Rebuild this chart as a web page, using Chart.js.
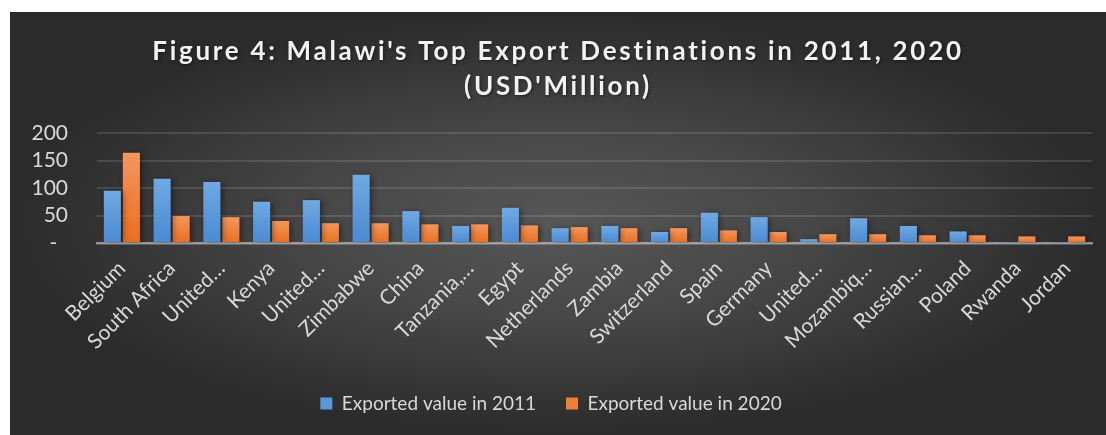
<!DOCTYPE html>
<html>
<head>
<meta charset="utf-8">
<title>Malawi export destinations</title>
<script src="https://cdn.jsdelivr.net/npm/chart.js@4.4.0/dist/chart.umd.min.js"></script>
<style>
  html, body { margin: 0; padding: 0; background: #ffffff; }
  #wrap {
    position: absolute;
    left: 10px;
    top: 12px;
    width: 1096px;
    height: 423px;
    overflow: hidden;
    background: radial-gradient(ellipse closest-side at 50% 50%, #575757 0%, #474747 45%, #2b2b2b 100%);
  }
  #chart { display: block; }
</style>
</head>
<body>
<div id="wrap"><canvas id="chart" width="1096" height="423"></canvas></div>
<script>
// --- DATA ---
const countries = ['Belgium', 'South Africa', 'United\u2026', 'Kenya', 'United\u2026', 'Zimbabwe', 'China',
    'Tanzania,\u2026', 'Egypt', 'Netherlands', 'Zambia', 'Switzerland', 'Spain', 'Germany', 'United\u2026',
    'Mozambiq\u2026', 'Russian\u2026', 'Poland', 'Rwanda', 'Jordan'];
const exports2011 = [95, 117, 111, 75, 78, 124, 58, 31, 64, 27, 31, 20, 55, 47, 7, 45, 31, 21, 1, 1];
const exports2020 = [164, 49, 47, 40, 36, 36, 34, 34, 32, 29, 27, 27, 23, 20, 16, 16, 14, 14, 12, 12];
const yTicks = [0, 50, 100, 150, 200];
const titleLines = ["Figure 4: Malawi's Top Export Destinations in 2011, 2020", "(USD'Million)"];

const FONT = 'Lato, "Open Sans", sans-serif';
const TEXT = '#d9d9d9';

// vertical gradient running over each bar from its top down to the base
function barFill(top, bottom) {
    return function(context) {
        const chart = context.chart;
        const y = chart.scales.y;
        if (!y || context.parsed === undefined) return bottom;
        const yTop = y.getPixelForValue(context.parsed.y);
        const yBase = y.getPixelForValue(0);
        if (!isFinite(yTop) || yBase - yTop < 1) return bottom;
        const g = chart.ctx.createLinearGradient(0, yTop, 0, yBase);
        g.addColorStop(0, top);
        g.addColorStop(1, bottom);
        return g;
    };
}

// soft shadow behind the bars
const barShadow = {
    id: 'barShadow',
    beforeDatasetsDraw(chart) {
        const ctx = chart.ctx;
        ctx.save();
        ctx.shadowColor = 'rgba(0,0,0,0.45)';
        ctx.shadowBlur = 6;
        ctx.shadowOffsetX = 2;
        ctx.shadowOffsetY = 1;
    },
    afterDatasetsDraw(chart) {
        chart.ctx.restore();
    }
};

// spaced-out bold heading over the plot
const spacedTitle = {
    id: 'spacedTitle',
    afterDraw(chart) {
        const ctx = chart.ctx;
        ctx.save();
        ctx.font = 'bold 26px ' + FONT;
        ctx.letterSpacing = '2.7px';
        ctx.fillStyle = '#f2f2f2';
        ctx.textAlign = 'center';
        ctx.textBaseline = 'alphabetic';
        ctx.shadowColor = 'rgba(0,0,0,0.5)';
        ctx.shadowBlur = 3;
        ctx.shadowOffsetX = 1;
        ctx.shadowOffsetY = 1;
        const cx = chart.width / 2;
        ctx.fillText(titleLines[0], cx, 48);
        ctx.fillText(titleLines[1], cx, 83);
        ctx.restore();
    }
};

const ctx = document.getElementById('chart').getContext('2d');
new Chart(ctx, {
    type: 'bar',
    data: {
        labels: countries,
        datasets: [{
            label: 'Exported value in 2011',
            data: exports2011,
            backgroundColor: barFill('#70a9e3', '#4a8ad2'),
            borderWidth: 0
        }, {
            label: 'Exported value in 2020',
            data: exports2020,
            backgroundColor: barFill('#f4965f', '#e96f1f'),
            borderWidth: 0
        }]
    },
    options: {
        responsive: false,
        animation: false,
        devicePixelRatio: 1,
        categoryPercentage: 0.764,
        barPercentage: 0.9,
        layout: { padding: { top: 121, right: 14, bottom: 12, left: 0 } },
        plugins: {
            title: { display: false },
            tooltip: { enabled: false },
            legend: {
                position: 'bottom',
                labels: {
                    color: TEXT,
                    font: { family: FONT, size: 19 },
                    boxWidth: 12,
                    boxHeight: 12,
                    padding: 30,
                    generateLabels(chart) {
                        const solid = ['#5a98da', '#ef7f35'];
                        return chart.data.datasets.map((ds, i) => ({
                            text: ds.label,
                            fillStyle: solid[i],
                            strokeStyle: solid[i],
                            lineWidth: 0,
                            fontColor: TEXT,
                            hidden: false,
                            datasetIndex: i
                        }));
                    }
                }
            }
        },
        scales: {
            x: {
                z: 1,
                grid: { display: false, drawTicks: false },
                border: { display: true, color: 'rgba(205,205,205,0.6)', width: 2.5 },
                ticks: {
                    color: TEXT,
                    font: { family: FONT, size: 21 },
                    minRotation: 45,
                    maxRotation: 45,
                    autoSkip: false,
                    padding: 13
                },
                afterFit(scale) { scale.height = 121; }
            },
            y: {
                min: 0,
                max: 200,
                afterBuildTicks(scale) { scale.ticks = yTicks.map(v => ({ value: v })); },
                grid: { color: 'rgba(255,255,255,0.12)', lineWidth: 2, drawTicks: false },
                border: { display: false },
                ticks: {
                    color: TEXT,
                    font: { family: FONT, size: 21 },
                    padding: 29,
                    autoSkip: false,
                    callback: v => (v === 0 ? '-  ' : String(v))
                },
                afterFit(scale) { scale.width = 87; }
            }
        }
    },
    plugins: [barShadow, spacedTitle]
});
</script>
</body>
</html>
